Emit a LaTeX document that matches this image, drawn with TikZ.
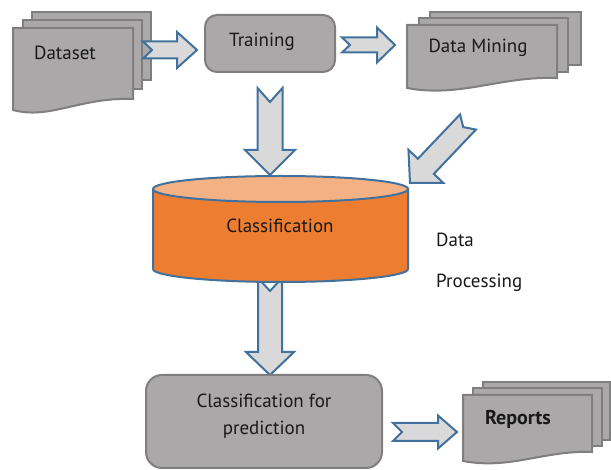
\documentclass[tikz,border=0pt]{standalone}
\usepackage{fontspec}
\setmainfont{PT Sans}
\usetikzlibrary{calc}
\definecolor{docgray}{HTML}{AAA8A8}
\definecolor{docborder}{HTML}{7F7F7F}
\definecolor{arrowgray}{HTML}{D9D9D9}
\definecolor{arrowblue}{HTML}{41719C}
\definecolor{cylbody}{HTML}{ED7D31}
\definecolor{cyltop}{HTML}{F4B183}
\tikzset{
  sheet/.style={fill=docgray, draw=docborder, line width=2pt, line join=miter},
  procbox/.style={fill=docgray, draw=docborder, line width=2pt, rounded corners=12pt},
  barrow/.style={fill=arrowgray, draw=arrowblue, line width=2pt, line join=miter},
  lbl/.style={font=\fontsize{19}{23}\selectfont, text=black!90, inner sep=0pt},
}
% tail, tip, head length, shaft half width, head half width, notch depth
\newcommand\blockarr[6]{%
  \draw[barrow] ($(#1)!#4!90:(#2)$) -- ($(#2)!#3!(#1)!#4!-90:(#1)$)
    -- ($(#2)!#3!(#1)!#5!-90:(#1)$) -- (#2)
    -- ($(#2)!#3!(#1)!#5!90:(#1)$) -- ($(#2)!#3!(#1)!#4!90:(#1)$)
    -- ($(#1)!#4!-90:(#2)$) -- ($(#1)!#6!(#2)$) -- cycle;}
\begin{document}
\begin{tikzpicture}[x=1pt,y=-1pt]
\useasboundingbox (0,0) rectangle (611,470);
% ---- Dataset stack
\draw[sheet] (32,12) rectangle (151,80);
\draw[sheet] (23,20) rectangle (142,89);
\draw[sheet] (13,28) -- (133,28) -- (133,99) .. controls (80,97) and (50,120) .. (13,110) -- cycle;
\node[lbl] (dataset) at (65,53) {Dataset};
% ---- Training
\node[procbox, minimum width=130pt, minimum height=57pt] (train) at (270,43.5) {};
\node[lbl] (traintxt) at (262,42) {Training};
% ---- Data Mining stack
\draw[sheet] (430,12) rectangle (581,65);
\draw[sheet] (419,18) rectangle (568,72);
\draw[sheet] (407,25) -- (557,25) -- (557,78) .. controls (500,76) and (460,98) .. (407,88) -- cycle;
\node[lbl] (mining) at (478,48) {Data Mining};
% ---- arrow coordinates
\coordinate (t1) at (143,50);  \coordinate (h1) at (197,50);
\coordinate (t2) at (342,45);  \coordinate (h2) at (395,45);
\coordinate (t3) at (468,122); \coordinate (h3) at (410,183);
\coordinate (t4) at (270,88);  \coordinate (h4) at (270,175);
\coordinate (t5) at (270,278); \coordinate (h5) at (270,375);
\coordinate (t6) at (393,432); \coordinate (h6) at (457,432);
\blockarr{t1}{h1}{20pt}{8.5pt}{18pt}{9pt}
\blockarr{t2}{h2}{18pt}{7.5pt}{17.5pt}{8pt}
\blockarr{t3}{h3}{23pt}{11pt}{24pt}{7pt}
\blockarr{t4}{h4}{25pt}{12.5pt}{25pt}{14pt}
\blockarr{t5}{h5}{23pt}{12pt}{24pt}{13pt}
\blockarr{t6}{h6}{19pt}{9pt}{16.5pt}{9pt}
% ---- Cylinder
\draw[fill=cylbody, draw=arrowblue, line width=2pt] (153,189) -- (153,269) arc[start angle=180, end angle=360, x radius=127.5, y radius=-13] -- (408,189) -- cycle;
\draw[fill=cyltop, draw=arrowblue, line width=2pt] (280.5,189) ellipse[x radius=127.5, y radius=13];
\node[lbl] (cls) at (280,226) {Classification};
% ---- Data Processing label
\node[lbl, anchor=west] (datalbl) at (436,240) {Data};
\node[lbl, anchor=west] (proclbl) at (436,283) {Processing};
% ---- Classification for prediction
\node[procbox, minimum width=236pt, minimum height=93pt, rounded corners=16pt] (pred) at (264,421.5) {};
\node[lbl, align=center] (predtxt) at (264,416) {Classification for\\[4pt]prediction};
% ---- Reports stack
\draw[sheet] (483,382) rectangle (610,440);
\draw[sheet] (473,388) rectangle (602,446);
\draw[sheet] (463,395) -- (592,395) -- (592,452) .. controls (545,450) and (510,470) .. (463,461) -- cycle;
\node[lbl, font=\fontsize{20}{24}\selectfont\bfseries] (reports) at (518,419) {Reports};
\end{tikzpicture}
\end{document}
